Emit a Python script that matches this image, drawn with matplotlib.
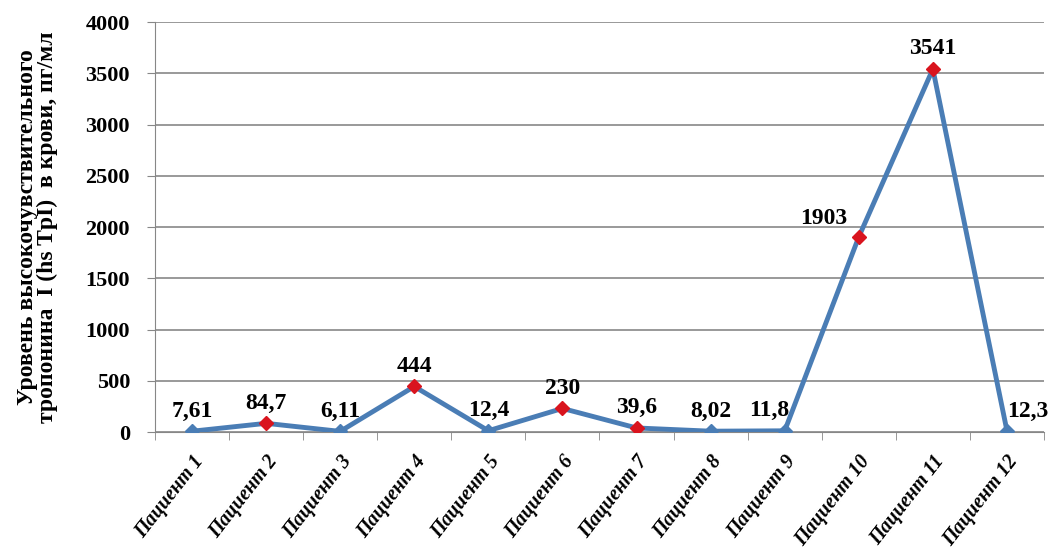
import matplotlib
matplotlib.use("Agg")
from matplotlib import pyplot as plt

patients = ["Пациент 1", "Пациент 2", "Пациент 3", "Пациент 4", "Пациент 5", "Пациент 6",
            "Пациент 7", "Пациент 8", "Пациент 9", "Пациент 10", "Пациент 11", "Пациент 12"]
values = [7.61, 84.7, 6.11, 444, 12.4, 230, 39.6, 8.02, 11.8, 1903, 3541, 12.3]
labels = ["7,61", "84,7", "6,11", "444", "12,4", "230", "39,6", "8,02", "11,8", "1903", "3541", "12,3"]
elevated = [False, True, False, True, False, True, True, False, False, True, True, False]

plt.rcParams['font.family'] = ['Liberation Serif', 'DejaVu Serif']

fig = plt.figure(figsize=(10.57, 5.57), dpi=100)
ax = fig.add_axes([0.1466, 0.2244, 0.8411, 0.7361])

x = list(range(len(values)))
line_color = '#4A7DB5'
ax.plot(x, values, color=line_color, linewidth=3.5, zorder=3)
for xi, v, hot in zip(x, values, elevated):
    ax.plot(xi, v, marker='D', markersize=7,
            color='#D9141E' if hot else line_color, zorder=4, linestyle='')

# label offsets in points (most sit above the point)
offsets = {"1903": (-8, 6, 'right'), "12,3": (0, 6, 'left'), "11,8": (-11, 7, 'center')}
for xi, v, lab in zip(x, values, labels):
    dx, dy, ha = offsets.get(lab, (0, 7, 'center'))
    ax.annotate(lab, (xi, v), xytext=(dx, dy), textcoords='offset points',
                ha=ha, va='bottom', fontsize=17, fontweight='bold')

ax.set_xlim(-0.5, len(values) - 0.5)
ax.set_ylim(0, 4000)
ax.set_yticks(range(0, 4001, 500))
ax.yaxis.grid(True, color='#878787', linewidth=1.2)
ax.set_axisbelow(True)

ax.set_xticks(x)
ax.set_xticklabels(patients, rotation=52, ha='right', rotation_mode='anchor',
                   fontsize=14.5, fontweight='bold', fontstyle='italic')
ax.set_xticks([i + 0.5 for i in range(-1, len(values))], minor=True)
ax.tick_params(axis='x', which='major', length=0, pad=14)
ax.tick_params(axis='x', which='minor', length=6, color='#878787', direction='out')
ax.tick_params(axis='y', length=6, color='#878787', labelsize=16, pad=12)
for t in ax.get_yticklabels():
    t.set_fontweight('bold')

for s in ['top', 'right']:
    ax.spines[s].set_visible(False)
ax.spines['left'].set_color('#878787')
ax.spines['bottom'].set_color('#878787')

ax.set_ylabel("Уровень высокочувствительного\nтропонина  I (hs TpI)  в крови, пг/мл",
              fontsize=17, fontweight='bold', labelpad=20, linespacing=0.9)

fig.savefig("out.png", dpi=100)
